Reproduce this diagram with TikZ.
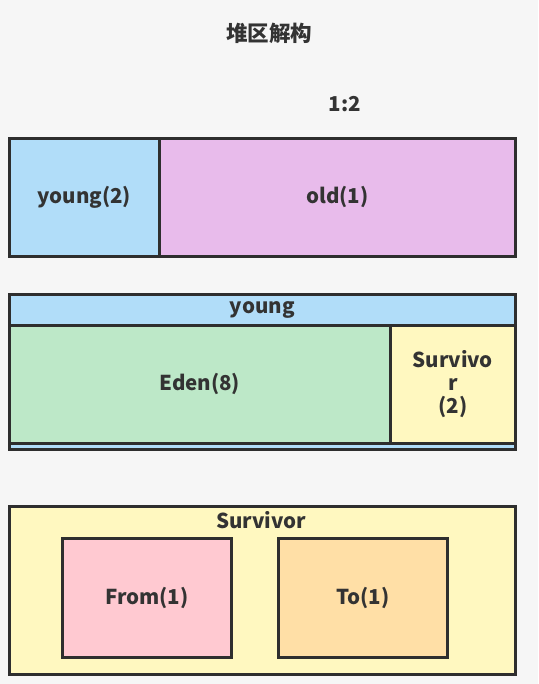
\documentclass[tikz,border=0pt]{standalone}
\usepackage{fontspec}
\setmainfont{Noto Sans CJK SC}
\begin{document}
\begin{tikzpicture}[x=1pt,y=-1pt,
  cell/.style={draw=linec, line width=2.6pt, anchor=north west, inner sep=0pt,
    font=\fontsize{20.5}{24}\selectfont\bfseries, text=txtc},
  lbl/.style={font=\fontsize{20.5}{24}\selectfont\bfseries, text=txtc, inner sep=0pt}]
\definecolor{bg}{HTML}{F6F6F6}
\definecolor{linec}{HTML}{2E2E2E}
\definecolor{txtc}{HTML}{333333}
\definecolor{cblue}{HTML}{B1DDF9}
\definecolor{cpink}{HTML}{E8BBEB}
\definecolor{cgreen}{HTML}{BDE8C8}
\definecolor{cyellow}{HTML}{FFF8C0}
\definecolor{crose}{HTML}{FFC9D1}
\definecolor{corange}{HTML}{FFDFA6}
\useasboundingbox (0,0) rectangle (538,684);
\fill[bg] (0,0) rectangle (538,684);
% title
\node[lbl, font=\fontsize{21.5}{24}\selectfont\bfseries] (title) at (269,33) {堆区解构};
\node[lbl] (ratio) at (345,104) {1:2};
% box 1
\node[cell, fill=cblue, minimum width=150pt, minimum height=118pt] (young2) at (8,137) {young(2)};
\node[cell, fill=cpink, minimum width=356pt, minimum height=118pt] (old) at (158,137) {old(1)};
% box 2
\node[cell, fill=cblue, minimum width=506pt, minimum height=155pt] (youngc) at (8,293) {};
\node[cell, fill=cblue, minimum width=506pt, minimum height=31pt] (younghead) at (8,293) {young};
\node[cell, fill=cgreen, minimum width=381pt, minimum height=118pt] (eden) at (8,324) {Eden(8)};
\node[cell, fill=cyellow, minimum width=125pt, minimum height=118pt, align=center,
  font=\fontsize{20.5}{23}\selectfont\bfseries] (surv2) at (389,324) {Survivo\\r\\(2)};
% box 3
\node[cell, fill=cyellow, minimum width=506pt, minimum height=168pt] (survc) at (8,505) {};
\node[lbl] (survlbl) at (261,520) {Survivor};
\node[cell, fill=crose, minimum width=169pt, minimum height=119pt] (from) at (61,537) {From(1)};
\node[cell, fill=corange, minimum width=169pt, minimum height=119pt] (to) at (277,537) {To(1)};
\end{tikzpicture}
\end{document}
